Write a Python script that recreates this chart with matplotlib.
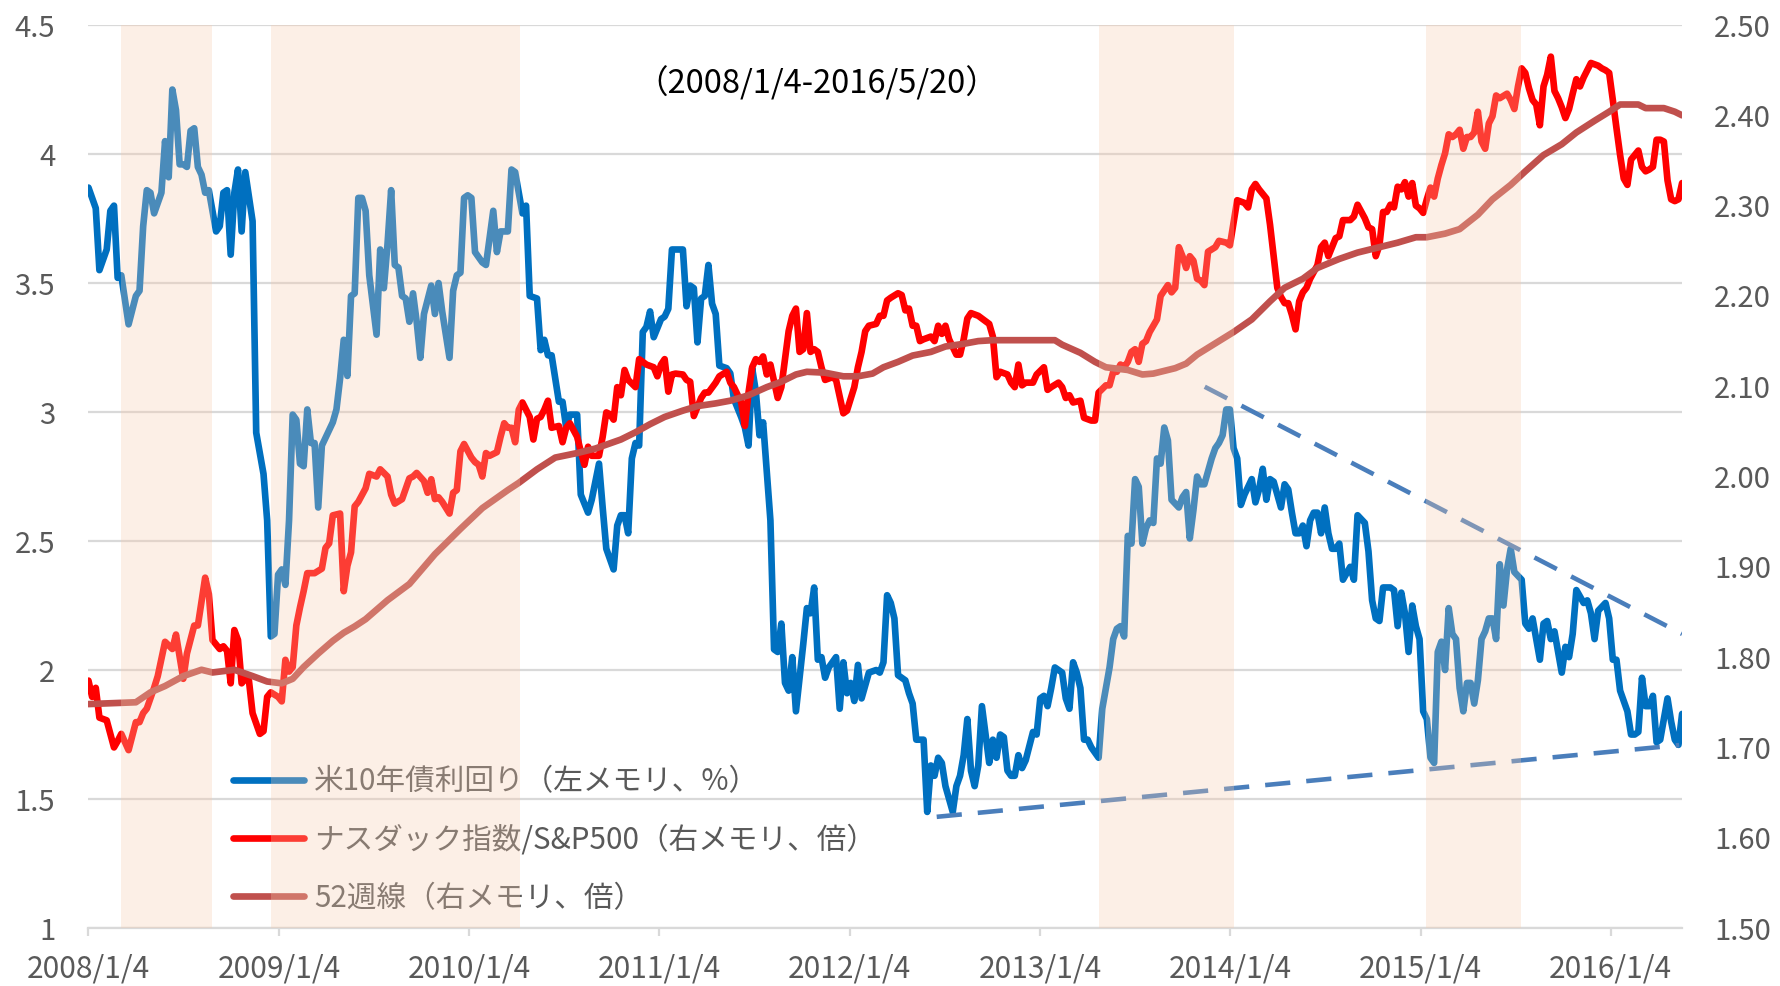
import matplotlib
matplotlib.use("Agg")
import matplotlib.pyplot as plt
import pandas as pd
import datetime as dt

plt.rcParams['font.family'] = ['Noto Sans CJK JP', 'DejaVu Sans']

start = pd.Timestamp('2008-01-04')
end_week = 437  # 2016/5/20

# 米10年債利回り (weeks after 2008/1/4, %)
yield_weeks = [0, 2, 3, 5, 6, 7, 8, 9, 11, 13, 14, 15, 16, 17, 18, 20, 21, 22, 23, 24, 25, 26, 27, 28, 29, 30,
               31, 32, 33, 35, 36, 37, 38, 39, 40, 41, 42, 43, 45, 46, 48, 49, 50, 51, 52, 53, 54, 55, 56, 57, 58,
               59, 60, 61, 62, 63, 64, 67, 68, 69, 70, 71, 72, 73, 74, 75, 76, 77, 79, 80, 81, 82, 83, 84, 85, 86,
               87, 88, 89, 90, 91, 92, 94, 95, 96, 97, 99, 100, 101, 102, 103, 104, 105, 106, 108, 109, 111, 112,
               113, 115, 116, 117, 119, 120, 121, 123, 124, 125, 126, 127, 129, 130, 131, 132, 134, 135, 137, 138,
               140, 141, 142, 144, 145, 146, 147, 148, 149, 150, 151, 152, 153, 154, 155, 157, 158, 159, 160, 163,
               164, 165, 166, 167, 168, 169, 170, 171, 172, 173, 175, 176, 177, 179, 180, 181, 182, 183, 184, 185,
               187, 188, 189, 190, 191, 192, 193, 194, 196, 197, 198, 199, 200, 201, 202, 203, 205, 206, 207, 208,
               209, 210, 211, 212, 213, 214, 216, 217, 218, 219, 220, 221, 222, 224, 225, 226, 227, 229, 230, 231,
               232, 233, 234, 235, 236, 237, 238, 239, 240, 241, 242, 243, 244, 245, 246, 247, 248, 249, 250, 251,
               252, 253, 254, 255, 256, 257, 259, 260, 261, 262, 263, 264, 265, 266, 267, 268, 269, 270, 271, 272,
               273, 274, 275, 277, 278, 279, 280, 281, 282, 283, 284, 285, 286, 287, 288, 289, 290, 291, 292, 293,
               294, 295, 296, 297, 299, 300, 301, 302, 303, 304, 305, 306, 308, 309, 310, 311, 312, 313, 314, 315,
               316, 317, 319, 320, 321, 322, 323, 324, 325, 327, 328, 329, 330, 331, 332, 333, 334, 335, 336, 337,
               338, 339, 340, 341, 342, 343, 344, 346, 347, 348, 350, 351, 352, 353, 354, 355, 357, 358, 359, 360,
               361, 362, 363, 364, 365, 366, 367, 368, 369, 370, 371, 372, 373, 374, 375, 376, 377, 378, 379, 380,
               381, 382, 383, 384, 385, 386, 387, 388, 389, 390, 391, 393, 394, 395, 396, 398, 399, 400, 401, 402,
               404, 405, 406, 407, 408, 410, 411, 412, 413, 414, 416, 417, 418, 419, 420, 422, 423, 424, 425, 426,
               427, 428, 429, 430, 431, 433, 434, 435, 436, 437]
yield_vals = [3.87, 3.79, 3.55, 3.63, 3.78, 3.80, 3.52, 3.53, 3.34, 3.45, 3.47, 3.72, 3.86, 3.85, 3.77, 3.85, 4.05,
              3.91, 4.25, 4.17, 3.96, 3.96, 3.95, 4.09, 4.10, 3.95, 3.92, 3.85, 3.86, 3.70, 3.72, 3.85, 3.86, 3.61,
              3.85, 3.94, 3.70, 3.93, 3.74, 2.92, 2.76, 2.58, 2.13, 2.14, 2.37, 2.39, 2.33, 2.58, 2.99, 2.97, 2.80,
              2.79, 3.01, 2.88, 2.88, 2.63, 2.87, 2.96, 3.01, 3.13, 3.28, 3.14, 3.45, 3.46, 3.83, 3.83, 3.78, 3.53,
              3.30, 3.63, 3.48, 3.65, 3.86, 3.57, 3.56, 3.45, 3.44, 3.35, 3.46, 3.35, 3.21, 3.38, 3.49, 3.38, 3.50,
              3.39, 3.21, 3.47, 3.53, 3.54, 3.83, 3.84, 3.83, 3.62, 3.58, 3.57, 3.78, 3.62, 3.70, 3.70, 3.94, 3.93,
              3.77, 3.80, 3.45, 3.44, 3.24, 3.28, 3.22, 3.22, 3.04, 3.04, 2.94, 2.99, 2.99, 2.68, 2.61, 2.66, 2.80,
              2.63, 2.47, 2.39, 2.56, 2.60, 2.60, 2.53, 2.82, 2.88, 2.87, 3.31, 3.33, 3.39, 3.29, 3.36, 3.37, 3.40,
              3.63, 3.63, 3.41, 3.49, 3.48, 3.27, 3.44, 3.45, 3.57, 3.42, 3.38, 3.18, 3.17, 3.15, 3.05, 2.98, 2.94,
              2.87, 3.17, 3.08, 2.91, 2.96, 2.58, 2.08, 2.07, 2.18, 1.95, 1.92, 2.05, 1.84, 2.10, 2.24, 2.22, 2.32,
              2.04, 2.05, 1.97, 2.01, 2.05, 1.85, 2.03, 1.91, 1.95, 1.88, 2.02, 1.89, 1.94, 1.99, 2.00, 1.99, 2.03,
              2.29, 2.26, 2.20, 1.98, 1.96, 1.91, 1.87, 1.73, 1.73, 1.45, 1.63, 1.59, 1.66, 1.64, 1.55, 1.50, 1.45,
              1.55, 1.59, 1.67, 1.81, 1.61, 1.55, 1.63, 1.86, 1.75, 1.64, 1.73, 1.66, 1.75, 1.74, 1.61, 1.59, 1.59,
              1.67, 1.62, 1.65, 1.76, 1.75, 1.89, 1.90, 1.86, 1.93, 2.01, 2.00, 1.99, 1.89, 1.85, 2.03, 1.99, 1.93,
              1.73, 1.73, 1.70, 1.66, 1.85, 1.93, 2.01, 2.12, 2.16, 2.17, 2.13, 2.52, 2.49, 2.74, 2.71, 2.49, 2.55,
              2.58, 2.57, 2.82, 2.80, 2.94, 2.89, 2.66, 2.63, 2.67, 2.69, 2.51, 2.62, 2.75, 2.72, 2.72, 2.82, 2.86,
              2.88, 2.91, 3.01, 3.01, 2.86, 2.82, 2.64, 2.68, 2.74, 2.65, 2.70, 2.78, 2.66, 2.74, 2.73, 2.63, 2.72,
              2.70, 2.61, 2.53, 2.53, 2.56, 2.48, 2.58, 2.61, 2.61, 2.53, 2.63, 2.53, 2.47, 2.47, 2.49, 2.35, 2.40,
              2.35, 2.60, 2.57, 2.46, 2.27, 2.20, 2.19, 2.32, 2.32, 2.31, 2.17, 2.30, 2.22, 2.07, 2.25, 2.17, 2.12,
              1.84, 1.81, 1.66, 1.64, 2.07, 2.11, 2.00, 2.24, 2.14, 2.12, 1.93, 1.84, 1.95, 1.95, 1.87, 1.96, 2.12,
              2.15, 2.20, 2.20, 2.12, 2.41, 2.25, 2.39, 2.47, 2.38, 2.35, 2.18, 2.16, 2.20, 2.04, 2.18, 2.19, 2.12,
              2.15, 1.99, 2.09, 2.05, 2.14, 2.31, 2.26, 2.27, 2.22, 2.12, 2.23, 2.26, 2.20, 2.04, 2.04, 1.92, 1.84,
              1.75, 1.75, 1.76, 1.97, 1.86, 1.86, 1.90, 1.72, 1.73, 1.89, 1.80, 1.73, 1.71, 1.83]

# ナスダック指数/S&P500 (weeks after 2008/1/4, times)
ratio_weeks = [0, 1, 2, 3, 5, 7, 8, 9, 11, 13, 14, 15, 16, 18, 19, 21, 23, 24, 26, 27, 29, 30, 32, 33, 34, 36, 37,
               38, 39, 40, 41, 42, 43, 44, 45, 47, 48, 49, 50, 52, 53, 54, 55, 56, 57, 58, 59, 60, 62, 64, 65, 66,
               67, 69, 70, 71, 72, 73, 74, 76, 77, 79, 80, 82, 83, 84, 86, 88, 89, 90, 92, 93, 94, 95, 96, 97, 99,
               100, 101, 102, 103, 105, 106, 107, 108, 109, 110, 112, 113, 114, 115, 116, 117, 118, 119, 121, 122,
               123, 124, 125, 126, 127, 129, 130, 131, 132, 134, 135, 136, 137, 138, 140, 141, 142, 143, 144, 145,
               146, 147, 148, 150, 151, 152, 153, 155, 156, 157, 158, 159, 160, 161, 163, 164, 165, 166, 168, 169,
               170, 172, 173, 175, 176, 177, 179, 180, 181, 182, 183, 184, 185, 186, 187, 189, 190, 191, 192, 193,
               194, 195, 196, 197, 198, 199, 200, 201, 202, 204, 205, 207, 208, 210, 211, 212, 213, 214, 216, 217,
               218, 219, 220, 222, 223, 224, 225, 226, 227, 228, 229, 231, 232, 233, 234, 235, 236, 238, 239, 240,
               241, 242, 244, 245, 247, 248, 249, 250, 252, 253, 254, 255, 256, 257, 259, 260, 262, 263, 264, 266,
               267, 268, 269, 270, 272, 273, 275, 276, 277, 279, 280, 281, 282, 283, 284, 285, 286, 287, 288, 289,
               290, 291, 292, 293, 294, 296, 297, 298, 299, 300, 301, 302, 303, 304, 305, 306, 307, 309, 310, 312,
               313, 314, 315, 317, 318, 319, 320, 321, 322, 323, 324, 325, 326, 327, 328, 329, 330, 331, 332, 333,
               334, 335, 337, 338, 339, 340, 341, 342, 343, 344, 346, 347, 348, 350, 351, 352, 353, 354, 355, 356,
               357, 358, 359, 360, 361, 362, 363, 364, 365, 366, 367, 368, 369, 370, 371, 372, 373, 374, 375, 376,
               377, 378, 379, 380, 381, 382, 383, 384, 385, 386, 387, 389, 390, 391, 392, 393, 394, 395, 396, 397,
               398, 399, 400, 401, 402, 403, 404, 405, 406, 407, 408, 409, 410, 411, 412, 414, 415, 416, 417, 418,
               419, 420, 421, 422, 423, 424, 425, 426, 427, 428, 429, 430, 431, 432, 433, 434, 435, 436, 437]
ratio_vals = [1.774, 1.756, 1.766, 1.733, 1.730, 1.700, 1.707, 1.715, 1.697, 1.728, 1.728, 1.738, 1.743, 1.766,
              1.779, 1.817, 1.809, 1.825, 1.776, 1.804, 1.835, 1.835, 1.888, 1.870, 1.819, 1.809, 1.812, 1.807,
              1.771, 1.830, 1.819, 1.771, 1.776, 1.774, 1.738, 1.715, 1.718, 1.756, 1.761, 1.756, 1.751, 1.797,
              1.784, 1.789, 1.835, 1.855, 1.873, 1.893, 1.893, 1.898, 1.921, 1.926, 1.957, 1.959, 1.873, 1.901,
              1.916, 1.967, 1.972, 1.987, 2.003, 2.000, 2.008, 2.000, 1.980, 1.970, 1.975, 1.998, 2.000, 2.004,
              1.995, 1.982, 1.997, 1.975, 1.977, 1.972, 1.959, 1.982, 1.985, 2.028, 2.036, 2.021, 2.016, 2.013,
              2.000, 2.026, 2.023, 2.027, 2.044, 2.059, 2.054, 2.054, 2.038, 2.074, 2.082, 2.066, 2.041, 2.064,
              2.066, 2.074, 2.084, 2.054, 2.056, 2.038, 2.054, 2.059, 2.044, 2.028, 2.013, 2.033, 2.023, 2.023,
              2.044, 2.071, 2.069, 2.063, 2.099, 2.090, 2.118, 2.107, 2.099, 2.130, 2.127, 2.124, 2.121, 2.111,
              2.124, 2.130, 2.094, 2.113, 2.114, 2.113, 2.107, 2.105, 2.067, 2.087, 2.093, 2.093, 2.104, 2.111,
              2.116, 2.104, 2.099, 2.082, 2.056, 2.093, 2.121, 2.130, 2.127, 2.133, 2.113, 2.124, 2.087, 2.099,
              2.130, 2.161, 2.178, 2.186, 2.138, 2.141, 2.181, 2.138, 2.141, 2.138, 2.121, 2.107, 2.110, 2.107,
              2.070, 2.073, 2.099, 2.121, 2.138, 2.161, 2.167, 2.169, 2.178, 2.178, 2.195, 2.198, 2.203, 2.201,
              2.184, 2.186, 2.167, 2.167, 2.150, 2.152, 2.155, 2.150, 2.167, 2.158, 2.167, 2.152, 2.135, 2.135,
              2.152, 2.175, 2.181, 2.178, 2.175, 2.169, 2.155, 2.110, 2.116, 2.113, 2.104, 2.099, 2.124, 2.101,
              2.104, 2.104, 2.113, 2.121, 2.096, 2.099, 2.104, 2.099, 2.087, 2.090, 2.082, 2.084, 2.065, 2.062,
              2.062, 2.093, 2.101, 2.101, 2.116, 2.116, 2.124, 2.121, 2.127, 2.138, 2.141, 2.127, 2.147, 2.150,
              2.160, 2.167, 2.174, 2.200, 2.212, 2.204, 2.209, 2.254, 2.244, 2.231, 2.244, 2.239, 2.219, 2.217,
              2.212, 2.249, 2.254, 2.261, 2.259, 2.256, 2.281, 2.306, 2.303, 2.298, 2.318, 2.324, 2.318, 2.313,
              2.308, 2.279, 2.244, 2.209, 2.199, 2.192, 2.192, 2.179, 2.163, 2.194, 2.204, 2.209, 2.219, 2.234,
              2.254, 2.259, 2.244, 2.254, 2.264, 2.266, 2.284, 2.284, 2.288, 2.301, 2.286, 2.276, 2.274, 2.244,
              2.256, 2.293, 2.293, 2.301, 2.298, 2.321, 2.318, 2.326, 2.310, 2.325, 2.300, 2.297, 2.292, 2.307,
              2.320, 2.310, 2.330, 2.345, 2.358, 2.379, 2.376, 2.379, 2.384, 2.363, 2.376, 2.376, 2.381, 2.404,
              2.371, 2.363, 2.391, 2.399, 2.422, 2.419, 2.424, 2.417, 2.407, 2.432, 2.452, 2.447, 2.430, 2.417,
              2.412, 2.389, 2.432, 2.445, 2.465, 2.427, 2.419, 2.409, 2.397, 2.407, 2.424, 2.440, 2.432, 2.442,
              2.450, 2.458, 2.455, 2.452, 2.450, 2.447, 2.417, 2.386, 2.356, 2.330, 2.323, 2.351, 2.356, 2.361,
              2.343, 2.338, 2.340, 2.343, 2.373, 2.373, 2.371, 2.328, 2.307, 2.305, 2.307, 2.325]

# 52週線 (weeks after 2008/1/4, times)
ma_weeks = [0, 13, 17, 21, 26, 31, 34, 40, 45, 49, 53, 56, 59, 63, 67, 70, 73, 76, 82, 88, 95, 102, 108, 115, 118,
            123, 128, 134, 139, 146, 150, 154, 158, 163, 167, 172, 176, 181, 186, 190, 194, 197, 202, 207, 211,
            215, 218, 222, 226, 231, 235, 240, 244, 248, 265, 267, 272, 276, 279, 285, 289, 292, 298, 301, 304,
            308, 314, 319, 324, 328, 333, 337, 343, 348, 354, 359, 364, 367, 372, 376, 381, 385, 390, 394, 399,
            404, 408, 413, 417, 420, 425, 427, 432, 435, 437]
ma_vals = [1.748, 1.750, 1.761, 1.768, 1.779, 1.786, 1.783, 1.786, 1.779, 1.773, 1.771, 1.776, 1.789, 1.804, 1.818,
           1.827, 1.834, 1.842, 1.863, 1.881, 1.914, 1.942, 1.965, 1.985, 1.993, 2.008, 2.021, 2.026, 2.031, 2.041,
           2.049, 2.058, 2.066, 2.073, 2.078, 2.081, 2.084, 2.090, 2.099, 2.105, 2.113, 2.116, 2.115, 2.111, 2.111,
           2.114, 2.121, 2.127, 2.134, 2.138, 2.144, 2.147, 2.150, 2.151, 2.151, 2.146, 2.137, 2.127, 2.121, 2.118,
           2.113, 2.114, 2.120, 2.125, 2.135, 2.145, 2.160, 2.174, 2.194, 2.209, 2.219, 2.231, 2.241, 2.248, 2.254,
           2.259, 2.265, 2.265, 2.269, 2.274, 2.290, 2.307, 2.323, 2.338, 2.356, 2.368, 2.381, 2.394, 2.404, 2.412,
           2.412, 2.408, 2.408, 2.404, 2.400]

# shaded periods (weeks after 2008/1/4)
shade_start = [8.9, 50, 277.2, 366.7]
shade_end = [33.8, 118.2, 314, 392.7]

# trend lines on the yield (left axis)
upper_weeks = [306.1, 437]
upper_vals = [3.098, 2.14]
lower_weeks = [232.6, 436.2]
lower_vals = [1.431, 1.709]

legend_labels = ['米10年債利回り（左メモリ、%）', 'ナスダック指数/S&P500（右メモリ、倍）', '52週線（右メモリ、倍）']
period_text = '（2008/1/4-2016/5/20）'


def to_dates(weeks):
    return [start + pd.Timedelta(days=7 * w) for w in weeks]


grey = '#595959'
grid_col = '#d9d9d9'
lw = 4.8

fig = plt.figure(figsize=(17.8, 9.86), dpi=100)
ax = fig.add_axes([0.0497, 0.0588, 0.8953, 0.9158])
ax2 = ax.twinx()

l1, = ax.plot(to_dates(yield_weeks), yield_vals, color='#0070C0', lw=lw,
              solid_joinstyle='round', solid_capstyle='round', zorder=3)
ax.plot(to_dates(upper_weeks), upper_vals, color='#4A7EBB', lw=3.3, ls=(0, (5.5, 3.5)), zorder=4)
ax.plot(to_dates(lower_weeks), lower_vals, color='#4A7EBB', lw=3.3, ls=(0, (5.5, 3.5)), zorder=4)

l2, = ax2.plot(to_dates(ratio_weeks), ratio_vals, color='#FF0000', lw=lw,
               solid_joinstyle='round', solid_capstyle='round', zorder=3)
l3, = ax2.plot(to_dates(ma_weeks), ma_vals, color='#C0504D', lw=lw,
               solid_joinstyle='round', solid_capstyle='round', zorder=4)

for s0, s1 in zip(shade_start, shade_end):
    ax2.axvspan(start + pd.Timedelta(days=7 * s0), start + pd.Timedelta(days=7 * s1),
                color='#F8CBAD', alpha=0.3, lw=0, zorder=10)

ax.set_xlim(start, start + pd.Timedelta(days=7 * end_week))
ax.set_ylim(1, 4.5)
ax2.set_ylim(1.5, 2.5)

left_ticks = [1, 1.5, 2, 2.5, 3, 3.5, 4, 4.5]
ax.set_yticks(left_ticks)
ax.set_yticklabels(['1', '1.5', '2', '2.5', '3', '3.5', '4', '4.5'])
right_ticks = [1.5 + 0.1 * i for i in range(11)]
ax2.set_yticks(right_ticks)
ax2.set_yticklabels(['%.2f' % t for t in right_ticks])

xt = [dt.datetime(y, 1, 4) for y in range(2008, 2017)]
ax.set_xticks(xt)
ax.set_xticklabels(['%d/1/4' % y for y in range(2008, 2017)])

ax.grid(axis='y', color=grid_col, lw=1.6)
ax.set_axisbelow(True)
for sp in ['top', 'left', 'right']:
    ax.spines[sp].set_visible(False)
ax.spines['bottom'].set_color(grid_col)
ax.spines['bottom'].set_linewidth(1.6)
for sp in ax2.spines.values():
    sp.set_visible(False)

ax.tick_params(axis='y', length=0, pad=24, labelsize=21, labelcolor=grey)
ax.tick_params(axis='x', length=6, width=1.6, color=grid_col, pad=12.5, labelsize=21.5, labelcolor=grey)
ax2.tick_params(axis='y', length=0, pad=23, labelsize=21, labelcolor=grey)

ax2.text(0.457, 0.936, period_text, transform=ax2.transAxes, ha='center', va='center',
         fontsize=23.5, color='black', zorder=12)

leg = ax2.legend([l1, l2, l3], legend_labels, loc='upper left', bbox_to_anchor=(0.0907, 0.179),
                 frameon=False, fontsize=21.3, handlelength=2.4, handletextpad=0.35,
                 labelspacing=0.92, borderpad=0, borderaxespad=0)
for t in leg.get_texts():
    t.set_color(grey)
leg.set_zorder(5)

fig.savefig('out.png', dpi=100)
